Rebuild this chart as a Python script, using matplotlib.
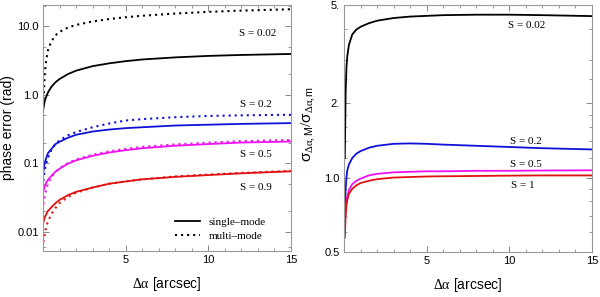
import numpy as np
import matplotlib.pyplot as plt
from matplotlib.lines import Line2D
from matplotlib.ticker import FixedLocator, NullFormatter

plt.rcParams['font.family'] = ['Liberation Sans', 'DejaVu Sans']
plt.rcParams['mathtext.fontset'] = 'custom'
plt.rcParams['mathtext.rm'] = 'Liberation Serif'
plt.rcParams['mathtext.it'] = 'Liberation Serif:italic'
plt.rcParams['mathtext.sf'] = 'Liberation Sans'

# left panel: phase error vs separation
x_l = [0.02, 0.1, 0.2, 0.3, 0.5, 0.75, 1, 1.5, 2, 3, 4, 5, 6, 8, 10, 12, 15]
sm_002 = [0.62, 0.8, 0.95, 1.08, 1.3, 1.52, 1.7, 2.0, 2.25, 2.62, 2.88, 3.1, 3.28, 3.52, 3.7, 3.82, 3.95]
mm_002 = [0.7, 2.0, 3.3, 4.5, 6.0, 7.4, 8.3, 9.6, 10.5, 11.8, 12.8, 13.6, 14.3, 15.4, 16.3, 17.0, 17.8]
sm_02 = [0.075, 0.1, 0.12, 0.14, 0.16, 0.19, 0.205, 0.235, 0.26, 0.29, 0.31, 0.325, 0.335, 0.355, 0.365, 0.375, 0.385]
mm_02 = [0.055, 0.08, 0.1, 0.12, 0.155, 0.19, 0.215, 0.255, 0.285, 0.335, 0.38, 0.42, 0.44, 0.47, 0.49, 0.5, 0.51]
sm_05 = [0.039, 0.045, 0.052, 0.057, 0.065, 0.075, 0.083, 0.098, 0.11, 0.128, 0.143, 0.155, 0.165, 0.18, 0.19, 0.2, 0.207]
mm_05 = [0.025, 0.033, 0.042, 0.05, 0.062, 0.074, 0.084, 0.1, 0.113, 0.133, 0.149, 0.162, 0.173, 0.188, 0.2, 0.21, 0.218]
sm_09 = [0.0135, 0.016, 0.018, 0.02, 0.0225, 0.026, 0.029, 0.034, 0.038, 0.044, 0.05, 0.054, 0.058, 0.063, 0.067, 0.071, 0.076]
mm_09 = [0.007, 0.009, 0.012, 0.014, 0.018, 0.022, 0.026, 0.032, 0.037, 0.044, 0.05, 0.054, 0.058, 0.064, 0.068, 0.072, 0.077]

# right panel: sigma ratio multi/single
x_r = [0.05, 0.1, 0.15, 0.2, 0.3, 0.5, 0.75, 1, 1.5, 2, 3, 4, 5, 6, 8, 10, 12, 15]
r_002 = [1.2, 2.2, 2.8, 3.1, 3.45, 3.8, 3.98, 4.08, 4.22, 4.32, 4.43, 4.49, 4.52, 4.55, 4.57, 4.57, 4.55, 4.51]
r_02 = [0.75, 0.9, 1.0, 1.07, 1.13, 1.2, 1.25, 1.28, 1.32, 1.345, 1.37, 1.375, 1.37, 1.36, 1.345, 1.33, 1.315, 1.3]
r_05 = [0.65, 0.74, 0.8, 0.84, 0.89, 0.94, 0.97, 0.99, 1.02, 1.035, 1.05, 1.055, 1.06, 1.06, 1.065, 1.065, 1.068, 1.07]
r_1 = [0.57, 0.7, 0.77, 0.81, 0.86, 0.9, 0.93, 0.95, 0.97, 0.985, 1.0, 1.005, 1.01, 1.012, 1.015, 1.018, 1.02, 1.02]

blue = '#1010d8'
red = '#e01010'
mag = '#f010f0'
dots = (0, (1, 1.9))
serif = 'Liberation Serif'

fig = plt.figure(figsize=(6, 2.97), dpi=100)
ax1 = fig.add_axes([0.0717, 0.155, 0.4133, 0.828])
ax2 = fig.add_axes([0.5733, 0.152, 0.4133, 0.831])

for xs, ys, c in [(x_l, sm_002, 'black'), (x_l, sm_02, blue), (x_l, sm_05, mag), (x_l, sm_09, red)]:
    ax1.plot(xs, ys, color=c, lw=1.3)
for xs, ys, c in [(x_l, mm_002, 'black'), (x_l, mm_02, blue), (x_l, mm_05, mag), (x_l, mm_09, red)]:
    ax1.plot(xs, ys, color=c, lw=1.5, linestyle=dots)

ax1.set_yscale('log')
ax1.set_xlim(0, 15)
ax1.set_ylim(0.0052, 20.5)
ax1.set_yticks([0.01, 0.1, 1, 10])
ax1.set_yticklabels(['0.01', '0.1', '1.0', '10.0'])
ax1.yaxis.set_minor_locator(FixedLocator([0.006, 0.02, 0.05, 0.2, 0.5, 2, 5, 20]))
ax1.yaxis.set_minor_formatter(NullFormatter())
ax1.set_ylabel('phase error (rad)', fontsize=10)
ax1.yaxis.set_label_coords(-0.113, 0.5)

for t, xx, yy in [('S = 0.02', 13.0, 7.9), ('S = 0.2', 12.9, 0.71),
                  ('S = 0.5', 12.9, 0.136), ('S = 0.9', 12.9, 0.044)]:
    ax1.text(xx, yy, t, fontsize=8, family=serif, ha='center', va='center')

handles = [Line2D([], [], color='black', lw=1.3),
           Line2D([], [], color='black', lw=1.5, linestyle=dots)]
ax1.legend(handles, ['single\u2013mode', 'multi\u2013mode'], loc='lower left',
           bbox_to_anchor=(0.49, 0.0), frameon=False, prop={'family': serif, 'size': 8},
           handlelength=2.3, handletextpad=0.8, labelspacing=0.35)

for ys, c in [(r_002, 'black'), (r_02, blue), (r_05, mag), (r_1, red)]:
    ax2.plot(x_r, ys, color=c, lw=1.3)

ax2.set_yscale('log')
ax2.set_xlim(0, 15)
ax2.set_ylim(0.5, 5)
ax2.set_yticks([0.5, 1, 2, 5])
ax2.set_yticklabels(['0.5', '1.0', '2.', '5.'])
ax2.yaxis.set_minor_locator(FixedLocator([0.6, 0.7, 0.8, 0.9, 1.2, 1.4, 1.6, 1.8, 2.5, 3, 4]))
ax2.yaxis.set_minor_formatter(NullFormatter())
ax2.set_ylabel(r'$\mathsf{\sigma}_{\mathrm{\Delta\alpha},\mathsf{M}}/\mathsf{\sigma}_{\mathrm{\Delta\alpha},\mathsf{m}}$',
               fontsize=11)
ax2.yaxis.set_label_coords(-0.105, 0.52)

for t, xx, yy in [('S = 0.02', 11.07, 4.15), ('S = 0.2', 11.0, 1.40),
                  ('S = 0.5', 11.0, 1.13), ('S = 1', 10.8, 0.928)]:
    ax2.text(xx, yy, t, fontsize=8, family=serif, ha='center', va='center')

for ax in (ax1, ax2):
    ax.set_xticks([5, 10, 15])
    ax.xaxis.set_minor_locator(FixedLocator([1, 2, 3, 4, 6, 7, 8, 9, 11, 12, 13, 14]))
    ax.set_xlabel(r'$\mathrm{\Delta\alpha}$ [arcsec]', fontsize=10, labelpad=7)
    ax.tick_params(which='both', direction='in', top=True, right=True,
                   color='#888888', labelsize=8, pad=3)
    ax.tick_params(which='major', length=4.5, width=0.7)
    ax.tick_params(which='minor', length=2.5, width=0.6)
    for sp in ax.spines.values():
        sp.set_color('#999999')
        sp.set_linewidth(0.8)

fig.savefig('out.png', dpi=100)
